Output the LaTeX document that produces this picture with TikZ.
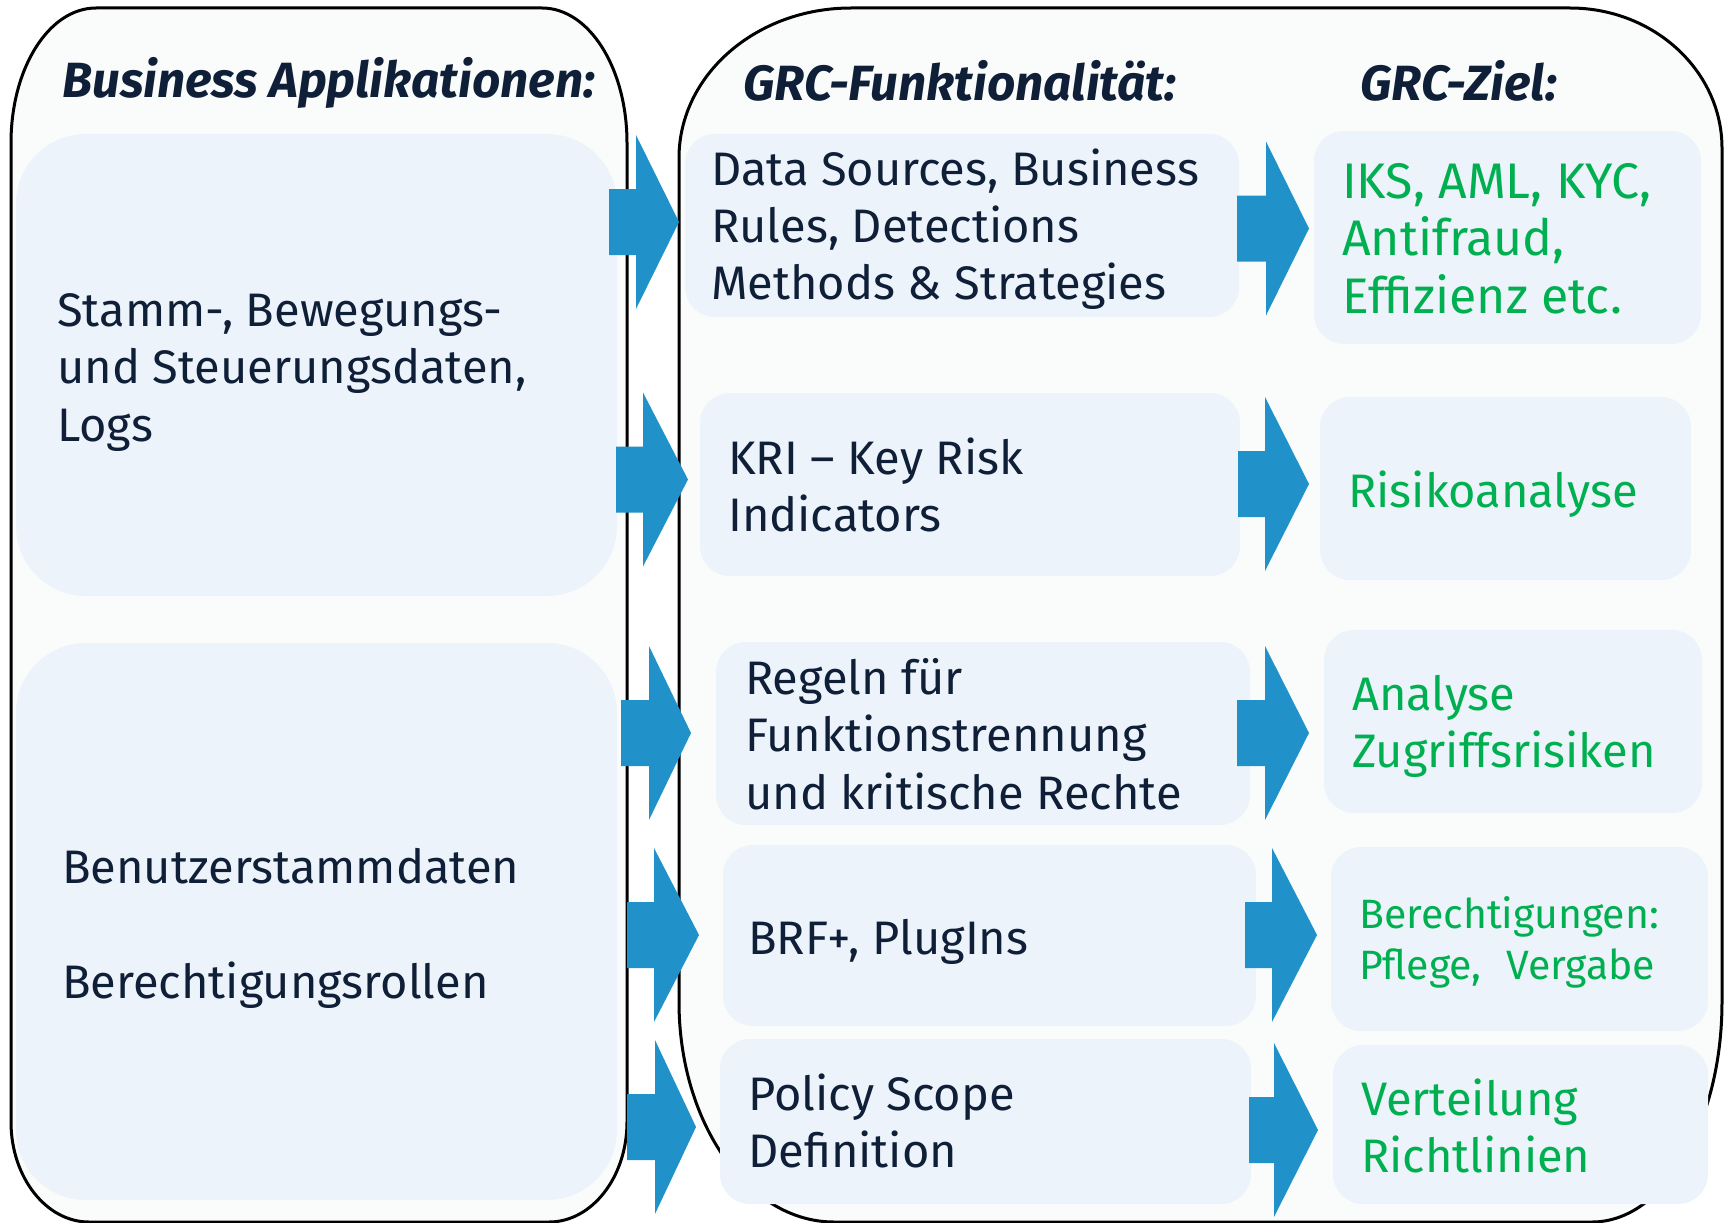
\documentclass[tikz,border=0pt]{standalone}
\usepackage{fontspec}
\setmainfont{Fira Sans}
\usetikzlibrary{fit}
\definecolor{navy}{HTML}{0F1F38}
\definecolor{goalgreen}{HTML}{00B050}
\definecolor{arrowblue}{HTML}{2191CA}
\definecolor{panelfill}{HTML}{EDF3FA}
\definecolor{bigfill}{HTML}{FAFCFC}
\newcommand\mlines[1]{\begin{tabular}[t]{@{}l@{}}#1\end{tabular}}
\newcommand\barrow[4]{\fill[arrowblue] (#1,#4-33) -- (#2,#4-33) -- (#2,#4-87) -- (#3,#4) -- (#2,#4+87) -- (#2,#4+33) -- (#1,#4+33) -- cycle;}
\begin{document}
\begin{tikzpicture}[x=1pt,y=-1pt,
  bigbox/.style={draw=black,line width=3pt,fill=bigfill},
  panel/.style={fill=panelfill,draw=none,inner sep=0pt,outer sep=0pt,rounded corners=30pt},
  bigpanel/.style={panel,rounded corners=70pt},
  titletext/.style={anchor=base west,inner sep=0pt,text=navy,font=\fontsize{49.5}{60}\selectfont\bfseries\itshape},
  bodytext/.style={anchor=base west,inner sep=0pt,text=navy,font=\fontsize{47}{57.5}\selectfont},
  goaltext/.style={anchor=base west,inner sep=0pt,text=goalgreen,font=\fontsize{47}{57.5}\selectfont},
]
\useasboundingbox (0,0) rectangle (1725,1223);
\fill[white] (0,0) rectangle (1725,1223);

% big outer boxes
\path[bigbox] (11,143) .. controls (11,68) and (49,8) .. (96,8)
  -- (542,8) .. controls (589,8) and (627,68) .. (627,143)
  -- (627,1122) .. controls (627,1177) and (592,1222) .. (549,1222)
  -- (89,1222) .. controls (46,1222) and (11,1177) .. (11,1122) -- cycle;
\path[bigbox] (679,158) .. controls (679,75) and (756,8) .. (851,8)
  -- (1570,8) .. controls (1654,8) and (1722,71) .. (1722,148)
  -- (1722,1002) .. controls (1722,1123) and (1664,1222) .. (1592,1222)
  -- (834,1222) .. controls (748,1222) and (679,1123) .. (679,1002) -- cycle;

% panels
\node[bigpanel,fit={(16,134) (617,596)}] (L1) {};
\node[bigpanel,fit={(16,643) (617,1200)}] (L2) {};
\node[panel,fit={(685,134) (1239,317)}] (M1) {};
\node[panel,fit={(700,393) (1240,576)}] (M2) {};
\node[panel,fit={(716,642) (1250,825)}] (M3) {};
\node[panel,fit={(723,845) (1256,1026)}] (M4) {};
\node[panel,fit={(720,1039) (1251,1204)}] (M5) {};
\node[panel,fit={(1314,131) (1701,344)}] (R1) {};
\node[panel,fit={(1320,397) (1691,580)}] (R2) {};
\node[panel,fit={(1324,630) (1702,813)}] (R3) {};
\node[panel,fit={(1331,847) (1708,1031)}] (R4) {};
\node[panel,fit={(1333,1045) (1708,1204)}] (R5) {};

% block arrows
\barrow{609}{636}{679}{222}
\barrow{616}{643}{688}{479.5}
\barrow{621}{649}{691}{733}
\barrow{627}{654}{699}{935}
\barrow{627}{655}{696}{1127}
\barrow{1237}{1266}{1309}{228.5}
\barrow{1238}{1265}{1309}{484}
\barrow{1237}{1265}{1309}{733}
\barrow{1245}{1272}{1317}{935}
\barrow{1249}{1274}{1318}{1130}

% titles
\node[titletext] (t1) at (62,98) {Business Applikationen:};
\node[titletext] (t2) at (743,100) {GRC-Funktionalität:};
\node[titletext] (t3) at (1360,100) {GRC-Ziel:};

% texts
\node[bodytext] (L1t) at (57,326) {\mlines{Stamm-, Bewegungs-\\und Steuerungsdaten,\\Logs}};
\node[bodytext] (L2t) at (62,883) {\mlines{Benutzerstammdaten\\ \\Berechtigungsrollen}};
\node[bodytext] (M1t) at (711,185) {\mlines{Data Sources, Business\\Rules, Detections\\Methods \& Strategies}};
\node[bodytext] (M2t) at (728,474) {\mlines{KRI – Key Risk\\Indicators}};
\node[bodytext] (M3t) at (745,694) {\mlines{Regeln für\\Funktionstrennung\\und kritische Rechte}};
\node[bodytext] (M4t) at (748,954) {BRF+, PlugIns};
\node[bodytext] (M5t) at (748,1110) {\mlines{Policy Scope\\Definition}};
\node[goaltext,font=\fontsize{50}{57.5}\selectfont] (R1t) at (1342,198) {\mlines{IKS, AML, KYC,\\Antifraud,\\Effizienz etc.}};
\node[goaltext] (R2t) at (1348,507) {Risikoanalyse};
\node[goaltext] (R3t) at (1352,710) {\mlines{Analyse\\Zugriffsrisiken}};
\node[goaltext,font=\fontsize{41}{51}\selectfont] (R4t) at (1359,928) {\mlines{Berechtigungen:\\Pflege,\hspace{0.6em}Vergabe}};
\node[goaltext] (R5t) at (1361,1115) {\mlines{Verteilung\\Richtlinien}};
\end{tikzpicture}
\end{document}
